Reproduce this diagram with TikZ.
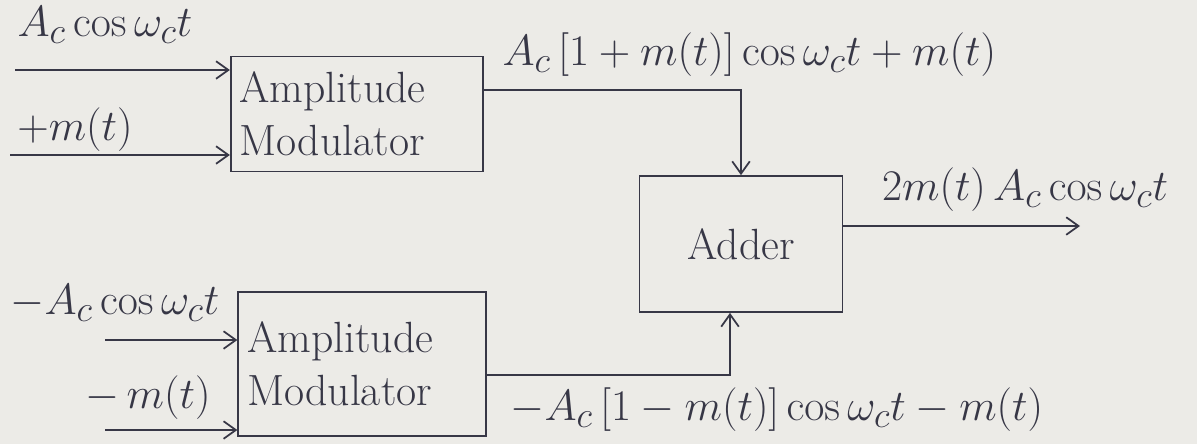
\documentclass[tikz,border=0pt]{standalone}
\usetikzlibrary{arrows.meta}
\definecolor{ink}{RGB}{55,55,70}
\definecolor{paper}{RGB}{236,235,231}
\begin{document}
\begin{tikzpicture}[x=0.02cm, y=-0.02cm, ink, line width=1pt,
    block/.style={rectangle, draw=ink, font=\Huge, align=left, inner sep=5pt},
    sig/.style={font=\Huge, inner sep=1pt},
    >={Straight Barb[length=7pt, width=10pt]}]
      \fill[paper] (0,0) rectangle (1197,444);
      \useasboundingbox (0,0) rectangle (1197,444);
      % blocks
      \node (am1) at (357,114) [block, text width=4.7cm, minimum height=2.3cm] {Amplitude\\Modulator};
      \node (am2) at (362,364) [block, text width=4.6cm, minimum height=2.88cm] {Amplitude\\Modulator};
      \node (add) at (741,244) [block, minimum width=4.06cm, minimum height=2.72cm] {Adder};
      % free ends and corners
      \coordinate (i1) at (15,70);
      \coordinate (i2) at (10,155);
      \coordinate (i3) at (105,340);
      \coordinate (i4) at (105,430);
      \coordinate (j1) at (741,90);
      \coordinate (j2) at (730,375);
      \coordinate (o1) at (1080,226);
      % labels
      \node (l1) at (105,25) [sig] {$A_c\cos\omega_c t$};
      \node (l2) at (75,130) [sig] {$+m(t)$};
      \node (l3) at (500,55) [sig, anchor=west] {$A_c\,[1+m(t)]\cos\omega_c t+m(t)$};
      \node (l4) at (1025,190) [sig] {$2m(t)\,A_c\cos\omega_c t$};
      \node (l5) at (115,303) [sig] {$-A_c\cos\omega_c t$};
      \node (l6) at (148,398) [sig] {$-\,m(t)$};
      \node (l7) at (508,410) [sig, anchor=west] {$-A_c\,[1-m(t)]\cos\omega_c t-m(t)$};
      % connectors
      \draw[->] (i1) -- (i1 -| am1.west);
      \draw[->] (i2) -- (i2 -| am1.west);
      \draw[->] (i3) -- (i3 -| am2.west);
      \draw[->] (i4) -- (i4 -| am2.west);
      \draw[->] (am1.east |- j1) -- (j1) -- (add.north);
      \draw[->] (am2.east |- j2) -- (j2) -- (j2 |- add.south);
      \draw[->] (add.east |- o1) -- (o1);
    \end{tikzpicture}
\end{document}
